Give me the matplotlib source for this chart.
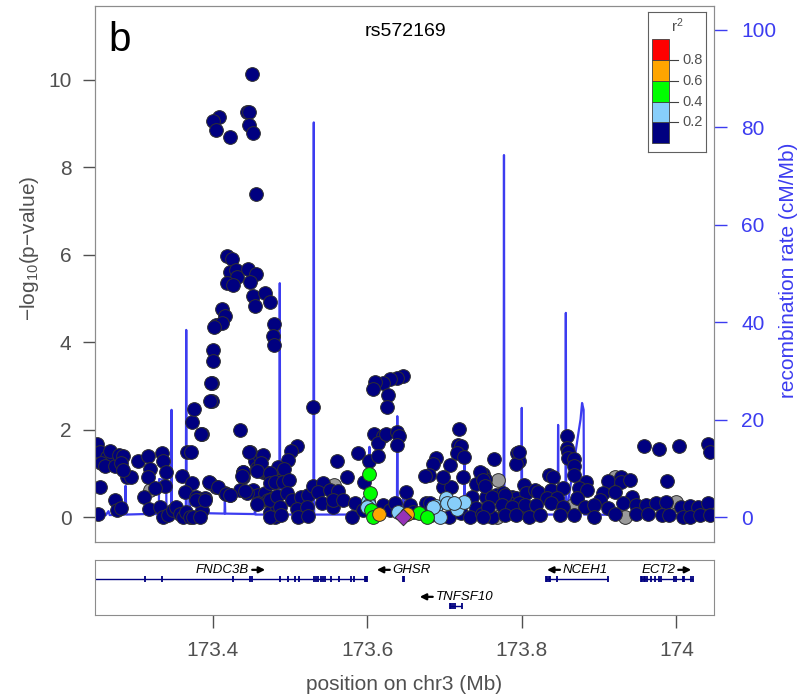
import matplotlib
matplotlib.use("Agg")
import matplotlib.pyplot as plt
from matplotlib.patches import Rectangle

plt.rcParams['font.family'] = ['Liberation Sans', 'DejaVu Sans']
plt.rcParams['mathtext.default'] = 'regular'

# --- data (positions in Mb on chr3, -log10 p) ---
navy_x = [173.251, 173.255, 173.263, 173.267, 173.256, 173.261, 173.274, 173.279, 173.284, 173.282,
          173.289, 173.295, 173.284, 173.304, 173.317, 173.319, 173.317, 173.335, 173.336, 173.340,
          173.338, 173.361, 173.367, 173.373, 173.376, 173.386, 173.399, 173.399, 173.436, 173.448,
          173.440, 173.440, 173.455, 173.461, 173.465, 173.457, 173.465, 173.470, 173.474, 173.476,
          173.483, 173.453, 173.459, 173.468, 173.472, 173.478, 173.255, 173.274, 173.276, 173.282,
          173.312, 173.318, 173.325, 173.332, 173.336, 173.343, 173.349, 173.353, 173.358, 173.362,
          173.366, 173.371, 173.373, 173.364, 173.379, 173.384, 173.390, 173.397, 173.405, 173.416,
          173.422, 173.387, 173.435, 173.444, 173.459, 173.474, 173.483, 173.481, 173.252,
          # peak
          173.451, 173.444, 173.447, 173.409, 173.401, 173.404, 173.423, 173.447, 173.453, 173.456,
          173.419, 173.425, 173.422, 173.430, 173.432, 173.446, 173.456, 173.419, 173.427, 173.449,
          173.453, 173.468, 173.474, 173.455, 173.412, 173.416, 173.404, 173.412, 173.402, 173.480,
          173.478, 173.480, 173.400, 173.400, 173.398, 173.397, 173.530, 173.385, 173.372, 173.447,
          173.509, 173.502, 173.498, 173.485, 173.493, 173.463, 173.439, 173.438, 173.457, 173.474,
          173.561, 173.396, 173.407, 173.417, 173.423, 173.442, 173.474, 173.481, 173.491, 173.499,
          173.474, 173.483, 173.496, 173.503, 173.515, 173.524, 173.530, 173.543, 173.537, 173.552,
          173.562, 173.457, 173.487, 173.509, 173.522, 173.541, 173.556, 173.474, 173.489, 173.511,
          173.524, 173.379, 173.390, 173.375, 173.384,
          # middle
          173.647, 173.638, 173.629, 173.621, 173.610, 173.607, 173.627, 173.626, 173.609, 173.621,
          173.614, 173.624, 173.639, 173.641, 173.639, 173.588, 173.603, 173.614, 173.574, 173.596,
          173.650, 173.719, 173.718, 173.722, 173.716, 173.725, 173.689, 173.685, 173.680, 173.675,
          173.707, 173.724, 173.741, 173.750, 173.752, 173.764, 173.794, 173.797, 173.793, 173.803,
          173.698, 173.709, 173.655, 173.676, 173.735, 173.741, 173.754, 173.767, 173.776, 173.787,
          173.793, 173.806, 173.778, 173.791, 173.802, 173.556, 173.569, 173.584, 173.580, 173.595,
          173.621, 173.629, 173.636, 173.659, 173.683, 173.706, 173.722, 173.733, 173.748, 173.761,
          173.784, 173.797, 173.681, 173.698,
          # right
          173.797, 173.858, 173.859, 173.860, 173.860, 173.867, 173.867, 173.868, 173.835, 173.840,
          173.883, 173.874, 173.911, 173.929, 173.928, 173.940, 173.958, 173.978, 174.003, 174.041,
          174.044, 173.988, 173.746, 173.750, 173.752, 173.817, 173.821, 173.838, 173.853, 173.884,
          173.905, 173.920, 173.942, 173.762, 173.778, 173.832, 173.845, 173.871, 173.901, 173.931,
          173.756, 173.774, 173.788, 173.804, 173.819, 173.838, 173.853, 173.882, 173.893, 173.911,
          173.948, 173.961, 173.974, 173.987, 174.006, 174.017, 174.028, 174.041, 173.750, 173.778,
          173.793, 173.810, 173.823, 173.849, 173.868, 173.894, 173.920, 173.948, 173.963, 173.981,
          173.990, 174.009, 174.017, 174.031, 174.044]
navy_y = [1.67, 1.49, 1.38, 1.52, 1.23, 1.17, 1.17, 1.42, 1.40, 1.23,
          0.92, 0.92, 1.08, 1.27, 1.40, 1.09, 0.92, 1.46, 1.27, 1.04,
          0.71, 0.94, 1.49, 2.18, 2.46, 1.90, 3.06, 2.66, 1.98, 1.49,
          1.04, 0.92, 1.27, 1.38, 1.42, 1.11, 1.04, 1.00, 0.92, 0.81,
          0.85, 0.62, 0.50, 0.54, 0.39, 0.43, 0.69, 0.39, 0.16, 0.20,
          0.46, 0.18, 0.66, 0.24, 0.01, 0.05, 0.16, 0.24, 0.08, 0.01,
          0.12, 0.01, 0.77, 0.58, 0.46, 0.39, 0.43, 0.77, 0.69, 0.54,
          0.50, 0.16, 0.62, 0.54, 0.31, 0.12, 0.24, 0.01, 0.08,
          10.14, 9.27, 9.27, 9.16, 9.05, 8.86, 8.69, 8.97, 8.79, 7.38,
          5.96, 5.90, 5.61, 5.64, 5.50, 5.67, 5.56, 5.35, 5.31, 5.38,
          5.06, 5.12, 4.91, 4.83, 4.75, 4.60, 4.39, 4.43, 4.35, 4.42,
          4.14, 3.94, 3.82, 3.58, 3.07, 2.65, 2.51, 1.89, 1.49, 1.49,
          1.62, 1.52, 1.30, 1.15, 1.09, 1.23, 1.04, 0.94, 1.06, 1.01,
          1.27, 0.79, 0.69, 0.53, 0.50, 0.60, 0.77, 0.81, 0.81, 0.85,
          0.39, 0.48, 0.56, 0.39, 0.46, 0.50, 0.71, 0.77, 0.58, 0.62,
          0.60, 0.30, 0.24, 0.18, 0.22, 0.31, 0.24, 0.01, 0.05, 0.00,
          0.02, 0.39, 0.40, 0.01, 0.00,
          3.23, 3.19, 3.15, 3.06, 3.08, 2.92, 2.79, 2.52, 1.90, 1.85,
          1.70, 1.90, 1.95, 1.85, 1.65, 1.46, 1.27, 1.40, 0.92, 0.81,
          0.58, 2.01, 1.65, 1.62, 1.46, 1.38, 1.34, 1.21, 0.96, 0.94,
          1.19, 0.92, 0.76, 0.98, 0.86, 1.32, 1.47, 1.27, 1.21, 0.73,
          0.69, 0.69, 0.27, 0.31, 0.46, 0.20, 0.46, 0.50, 0.54, 0.46,
          0.43, 0.54, 0.12, 0.08, 0.12, 0.39, 0.39, 0.31, 0.01, 0.16,
          0.27, 0.16, 0.31, 0.12, 0.05, 0.01, 0.10, 0.01, 0.08, 0.01,
          0.31, 0.31, 0.31, 0.92,
          1.49, 1.85, 1.57, 1.49, 1.34, 1.32, 1.17, 0.95, 0.96, 0.91,
          0.81, 0.66, 0.83, 0.92, 0.81, 0.85, 1.62, 1.56, 1.62, 1.67,
          1.49, 0.83, 1.04, 0.85, 0.70, 0.62, 0.58, 0.62, 0.66, 0.62,
          0.54, 0.58, 0.46, 0.46, 0.50, 0.43, 0.43, 0.43, 0.39, 0.31,
          0.24, 0.27, 0.24, 0.27, 0.27, 0.31, 0.24, 0.24, 0.27, 0.20,
          0.27, 0.27, 0.31, 0.35, 0.24, 0.25, 0.24, 0.31, 0.01, 0.05,
          0.05, 0.01, 0.05, 0.05, 0.05, 0.01, 0.08, 0.08, 0.08, 0.05,
          0.05, 0.01, 0.01, 0.05, 0.05]

gray_x = [173.319, 173.557, 173.769, 173.768, 173.920, 173.866, 173.999, 173.933]
gray_y = [0.62, 0.73, 0.84, 0.00, 0.92, 0.27, 0.35, 0.01]

lblue_x = [173.601, 173.603, 173.600, 173.640, 173.689, 173.694, 173.702, 173.703, 173.716, 173.725,
           173.712, 173.685]
lblue_y = [0.37, 0.27, 0.22, 0.12, 0.25, 0.01, 0.43, 0.33, 0.18, 0.35, 0.33, 0.24]

green_x = [173.603, 173.604, 173.605, 173.607, 173.667, 173.678]
green_y = [0.98, 0.56, 0.16, 0.01, 0.10, 0.00]

orange_x = [173.615, 173.652]
orange_y = [0.08, 0.07]

lead_x = [173.646]
lead_y = [0.0]
lead_name = "rs572169"

# recombination rate (cM/Mb)
rec_pos = [173.248, 173.262, 173.2655, 173.267, 173.2865, 173.2875, 173.2885, 173.310, 173.3305,
           173.331, 173.340, 173.3405, 173.3465, 173.347, 173.3475, 173.3655, 173.366, 173.3665,
           173.370, 173.3705, 173.371, 173.3855, 173.4155, 173.416, 173.4165, 173.4545, 173.455,
           173.4555, 173.4865, 173.487, 173.4875, 173.5305, 173.531, 173.5315, 173.6025, 173.603,
           173.6035, 173.6385, 173.639, 173.6395, 173.6465, 173.647, 173.6475, 173.7255, 173.726,
           173.7265, 173.7765, 173.777, 173.7775, 173.7995, 173.800, 173.8005, 173.8465, 173.847,
           173.8475, 173.8565, 173.857, 173.8575, 173.874, 173.876, 173.878, 173.880, 173.8805,
           173.950, 174.048]
rec_rate = [0.4, 0.4, 1.2, 0.4, 0.5, 6.4, 0.5, 0.6, 0.6,
            7.8, 7.5, 0.8, 0.8, 22.0, 0.8, 0.8, 38.4, 1.0,
            1.0, 7.0, 1.0, 0.8, 0.7, 3.7, 0.7, 0.6, 2.0,
            0.5, 0.5, 48.0, 0.5, 0.5, 81.0, 0.5, 0.5, 14.4,
            0.5, 0.5, 20.7, 0.5, 0.5, 3.9, 0.5, 0.5, 11.4,
            0.5, 0.5, 74.3, 0.5, 0.5, 22.4, 0.5, 0.5, 18.9,
            0.5, 0.5, 41.9, 0.5, 18.0, 20.0, 23.4, 22.0, 0.5,
            0.4, 0.3]

# genes
gene_names = ["FNDC3B", "GHSR", "TNFSF10", "NCEH1", "ECT2"]
gene_start = [173.100, 173.646, 173.707, 173.831, 173.954]
gene_end = [173.600, 173.648, 173.723, 173.912, 174.021]
gene_strand = ["+", "-", "-", "-", "+"]
gene_row = [0, 0, 1, 0, 0]
gene_exons = [
    [173.313, 173.335, 173.427, 173.448, 173.451, 173.487, 173.497, 173.507, 173.512, 173.531,
     173.534, 173.537, 173.540, 173.543, 173.546, 173.553, 173.563, 173.579, 173.583, 173.597,
     173.599, 173.600],
    [173.646, 173.648],
    [173.707, 173.709, 173.711, 173.713, 173.723],
    [173.831, 173.833, 173.835, 173.837, 173.846, 173.912],
    [173.954, 173.956, 173.958, 173.960, 173.962, 173.967, 173.972, 173.978, 173.980, 173.997,
     174.000, 174.008, 174.010, 174.019, 174.021],
]

ld_colors = ["#000080", "#87CEFA", "#00FF00", "#FFA500", "#FF0000"]
ld_breaks = [0.0, 0.2, 0.4, 0.6, 0.8]

xlim = (173.248, 174.048)
x_ticks = [173.4, 173.6, 173.8, 174.0]
x_tick_labels = ["173.4", "173.6", "173.8", "174"]

grey = "#505050"
blue = "#3c3cf0"

fig = plt.figure(figsize=(8, 6.97), dpi=100)

# --- main panel ---
ax = fig.add_axes([95 / 800, 155.3 / 697, 618.5 / 800, 535.7 / 697])
ax2 = ax.twinx()
ax.set_zorder(ax2.get_zorder() + 1)
ax.patch.set_visible(False)

ax2.plot(rec_pos, rec_rate, color=blue, lw=1.6, zorder=1)
ax2.set_ylim(-5.07, 104.9)
ax2.set_yticks([0, 20, 40, 60, 80, 100])
ax2.tick_params(axis='y', colors=blue, labelsize=15, length=9, width=1, pad=11)
ax2.set_xlim(*xlim)

pt = dict(s=98, edgecolors="#303030", linewidths=0.7)
ax.scatter(gray_x, gray_y, c="#9a9a9a", **pt)
ax.scatter(navy_x, navy_y, c=ld_colors[0], **pt)
ax.scatter(lblue_x, lblue_y, c=ld_colors[1], **pt)
ax.scatter(green_x, green_y, c=ld_colors[2], **pt)
ax.scatter(orange_x, orange_y, c=ld_colors[3], **pt)
ax.scatter(lead_x, lead_y, c="#9632b8", marker="D", s=70, edgecolors="#303030", linewidths=0.7)

ax.set_xlim(*xlim)
ax.set_ylim(-0.565, 11.69)
ax.set_xticks([])
ax.set_yticks([0, 2, 4, 6, 8, 10])
ax.tick_params(axis='y', colors=grey, labelsize=15, length=9, width=1, pad=8)
for a in (ax, ax2):
    for s in a.spines.values():
        s.set_color("#8c8c8c")
ax2.spines['right'].set_color("#a0a0e6")

fig.text(120 / 800, 1 - 40 / 697, "b", fontsize=29, ha="center", va="center")
fig.text(405 / 800, 1 - 32 / 697, lead_name, fontsize=14, ha="center", va="center")
fig.text(30 / 800, 1 - 248 / 697, "\u2212log$_{10}$(p\u2212value)", rotation=90,
         fontsize=15, color=grey, ha="center", va="center")
fig.text(788 / 800, 1 - 270 / 697, "recombination rate (cM/Mb)", rotation=90,
         fontsize=15, color=blue, ha="center", va="center")
fig.text(404 / 800, 1 - 684 / 697, "position on chr3 (Mb)", fontsize=15, color=grey,
         ha="center", va="center")

# --- r^2 legend ---
lg = fig.add_axes([648 / 800, (697 - 152) / 697, 58 / 800, 140 / 697])
lg.set_xlim(0, 58)
lg.set_ylim(-0.083, 1.259)
lg.set_xticks([])
lg.set_yticks([])
for s in lg.spines.values():
    s.set_color("#606060")
for b, col in zip(ld_breaks, ld_colors):
    lg.add_patch(Rectangle((3.7, b), 17.6, 0.2, facecolor=col, edgecolor="#404040", lw=0.6))
for b in ld_breaks[1:]:
    lg.plot([21.3, 30], [b, b], color="#404040", lw=0.8)
    lg.text(34, b, f"{b:.1f}", fontsize=10.5, color=grey, va="center", ha="left")
lg.text(29, 1.13, "r$^2$", fontsize=11, color=grey, ha="center", va="center")

# --- gene panel ---
gx = fig.add_axes([95 / 800, 82 / 697, 618.5 / 800, 55 / 697])
gx.set_xlim(*xlim)
gx.set_ylim(-1.333, 0.704)
gx.set_yticks([])
gx.set_xticks(x_ticks)
gx.set_xticklabels(x_tick_labels)
gx.tick_params(axis='x', colors=grey, labelsize=15, length=9.5, width=1, pad=9)
for s in gx.spines.values():
    s.set_color("#8c8c8c")

labels = []
for name, st, en, strand, row, exons in zip(gene_names, gene_start, gene_end, gene_strand,
                                             gene_row, gene_exons):
    yr = -row
    gx.plot([st, en], [yr, yr], color="#000080", lw=1.0, solid_capstyle="butt")
    gx.vlines(exons, yr - 0.11, yr + 0.11, color="#000080", lw=1.3)
    mid = (max(st, xlim[0]) + min(en, xlim[1])) / 2
    # shift the name so that name + arrow is centred over the gene
    shift = 8.5 / 100 if strand == "-" else -8.5 / 100
    import matplotlib.transforms as mtrans
    tr = mtrans.offset_copy(gx.transData, fig=fig, x=shift, y=0, units="inches")
    t = gx.text(mid, yr + 0.34, name, fontsize=9.5, style="italic", ha="center", va="center",
                transform=tr)
    labels.append((t, strand))

fig.canvas.draw()
for t, strand in labels:
    bb = t.get_window_extent()
    yc = (bb.y0 + bb.y1) / 2
    if strand == "+":
        x0, x1 = bb.x1 + 3, bb.x1 + 16
    else:
        x0, x1 = bb.x0 - 3, bb.x0 - 16
    fig.add_artist(plt.Annotation("", xy=(x1, yc), xytext=(x0, yc), xycoords="figure pixels",
                                  arrowprops=dict(arrowstyle="-|>", color="black", lw=1.6,
                                                  mutation_scale=9, shrinkA=0, shrinkB=0)))

fig.savefig("out.png", dpi=100)
